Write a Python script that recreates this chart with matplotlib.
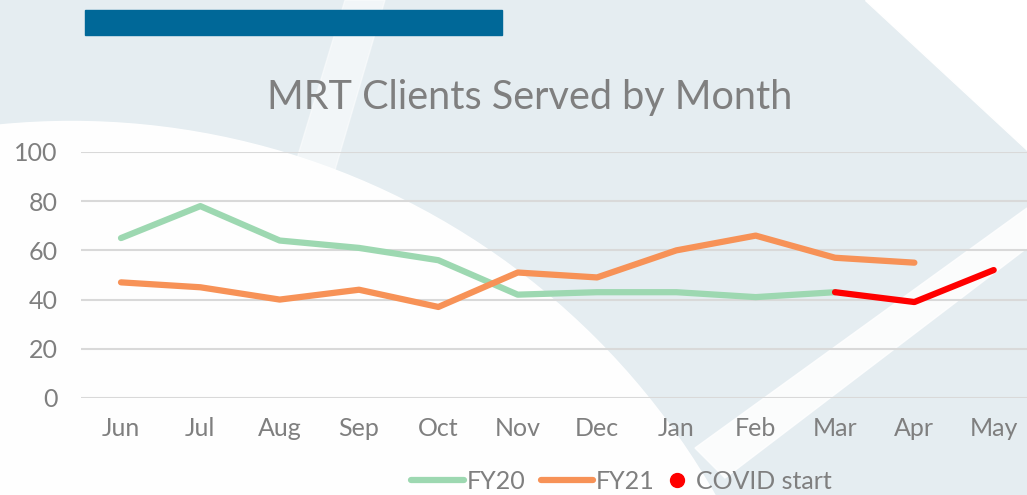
"""MRT clients served by month, FY20 vs FY21."""

import numpy as np
import matplotlib.pyplot as plt
from matplotlib.patches import Polygon, Rectangle, Circle

# Data
months = ['Jun', 'Jul', 'Aug', 'Sep', 'Oct', 'Nov',
          'Dec', 'Jan', 'Feb', 'Mar', 'Apr', 'May']
fy20 = [65, 78, 64, 61, 56, 42, 43, 43, 41, 43, np.nan, np.nan]
fy21 = [47, 45, 40, 44, 37, 51, 49, 60, 66, 57, 55, np.nan]
covid = [np.nan] * 9 + [43, 39, 52]
yticks = [0, 20, 40, 60, 80, 100]

GRAY = '#7f7f7f'
GREEN = '#9dd8b1'
ORANGE = '#f79257'
RED = '#ff0000'
plt.rcParams['font.family'] = ['Lato', 'DejaVu Sans']

fig = plt.figure(figsize=(10.27, 4.95), dpi=100)

# Background decoration (pixel coordinates)
bg = fig.add_axes([0, 0, 1, 1], zorder=0)
bg.set_xlim(0, 1027)
bg.set_ylim(495, 0)
bg.axis('off')
bg.add_patch(Rectangle((0, 0), 1027, 495, color='#e5edf1'))
bg.add_patch(Polygon([(345, 0), (385, 0), (335, 170), (295, 165)],
                     closed=True, color='white', alpha=0.5))
bg.add_patch(Circle((71.5, 862.5), 741, color='white', alpha=0.97))
bg.add_patch(Polygon([(865, 0), (1027, 0), (1027, 150)], closed=True, color='white'))
bg.add_patch(Polygon([(1027, 208), (1027, 248), (725, 478), (695, 448)],
                     closed=True, color='white', alpha=0.85))
bg.add_patch(Rectangle((85, 10), 417, 25, color='#006898'))

# Chart
ax = fig.add_axes([0.0792, 0.196, 0.927, 0.497], zorder=1)
ax.patch.set_alpha(0)
x = np.arange(len(months))
ax.plot(x, fy20, color=GREEN, lw=4.5, solid_capstyle='round', zorder=3)
ax.plot(x, fy21, color=ORANGE, lw=4.5, solid_capstyle='round', zorder=3)
ax.plot(x, covid, color=RED, lw=4.5, solid_capstyle='round', zorder=3)

ax.set_xlim(-0.5, len(months) - 0.5)
ax.set_ylim(0, 100)
ax.set_yticks(yticks)
ax.set_xticks(x)
ax.set_xticklabels(months)
ax.grid(axis='y', color='#d9d9d9', lw=1.5)
ax.set_axisbelow(True)
for s in ax.spines.values():
    s.set_visible(False)
ax.tick_params(axis='both', length=0, labelsize=18, labelcolor=GRAY)
ax.tick_params(axis='y', pad=17)
ax.tick_params(axis='x', pad=14)

fig.text(0.516, 0.804, 'MRT Clients Served by Month', ha='center', va='center',
         fontsize=28.5, color=GRAY)

# Legend (two pieces so the dot entry gets a short handle)
line_handles = [
    plt.Line2D([], [], color=GREEN, lw=4.5, solid_capstyle='round'),
    plt.Line2D([], [], color=ORANGE, lw=4.5, solid_capstyle='round'),
]
fig.legend(line_handles, ['FY20', 'FY21'], loc='center',
           bbox_to_anchor=(0.519, 0.028), ncol=2, frameon=False,
           fontsize=18, labelcolor=GRAY, handlelength=2.1, handletextpad=0.12,
           columnspacing=0.6)
dot = plt.Line2D([], [], color=RED, lw=0, marker='o', markersize=10)
fig.legend([dot], ['COVID start'], loc='center',
           bbox_to_anchor=(0.731, 0.028), frameon=False, fontsize=18,
           labelcolor=GRAY, handlelength=0.6, handletextpad=0.45)

fig.savefig('out.png', dpi=100)
